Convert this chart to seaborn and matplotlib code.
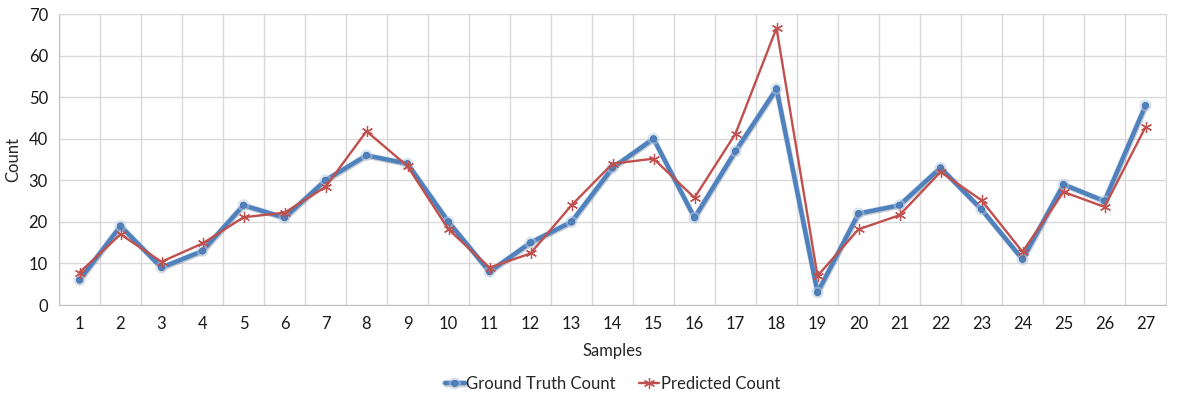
import numpy as np
import pandas as pd
import seaborn as sns
import matplotlib.pyplot as plt
import matplotlib.patheffects as pe

# Data
samples = list(range(1, 28))
ground_truth = [6, 19, 9, 13, 24, 21, 30, 36, 34, 20, 8, 15, 20, 33, 40, 21, 37, 52,
                3, 22, 24, 33, 23, 11, 29, 25, 48]
predicted = [7.8, 17, 10.4, 14.8, 21.1, 22.2, 28.4, 41.8, 33.4, 18.2, 9, 12.4, 24, 34,
             35.2, 25.8, 41.2, 66.6, 7, 18.2, 21.6, 32, 25.2, 12.8, 27.2, 23.6, 42.8]

df = pd.DataFrame({'Samples': samples,
                   'Ground Truth Count': ground_truth,
                   'Predicted Count': predicted})

sns.set_style('white')
plt.rcParams['font.family'] = ['Lato', 'DejaVu Sans']

fig = plt.figure(figsize=(11.88, 3.97), dpi=100)
ax = fig.add_axes([59 / 1188, (397 - 305) / 397, (1166 - 59) / 1188, (305 - 14) / 397])

blue = '#4F81BD'
red = '#C0504D'

sns.lineplot(data=df, x='Samples', y='Ground Truth Count', ax=ax, color=blue,
             linewidth=3.2, marker='o', markersize=4.5, markeredgecolor='#3a6aa6',
             markeredgewidth=0.5, label='Ground Truth Count', zorder=3,
             path_effects=[pe.SimpleLineShadow(offset=(0.6, -1.0), alpha=0.2),
                           pe.Stroke(linewidth=4.2, foreground='#b8cbe4', alpha=0.5),
                           pe.Normal()])
sns.lineplot(data=df, x='Samples', y='Predicted Count', ax=ax, color=red,
             linewidth=1.7, marker=(6, 2, 0), markersize=8, markeredgecolor=red,
             markeredgewidth=0.9, label='Predicted Count', zorder=4)

ax.set_xlim(0.5, 27.5)
ax.set_ylim(0, 70)
ax.set_xticks(samples)
ax.set_xticks(np.arange(0.5, 28, 1), minor=True)
ax.set_yticks(range(0, 71, 10))
ax.grid(False)
ax.grid(True, which='minor', axis='x', color='#d9d9d9', linewidth=1)
ax.grid(True, which='major', axis='y', color='#d9d9d9', linewidth=1)
ax.tick_params(axis='both', which='both', length=0, labelsize=12, colors='#1a1a1a')
ax.tick_params(axis='x', pad=8)
ax.tick_params(axis='y', pad=8)
for side in ['left', 'bottom']:
    ax.spines[side].set_color('#bfbfbf')
for side in ['top', 'right']:
    ax.spines[side].set_color('#d9d9d9')

ax.set_xlabel('Samples', fontsize=12, labelpad=8)
ax.set_ylabel('Count', fontsize=12, labelpad=5)

leg = ax.legend(loc='center', bbox_to_anchor=(0.5, -0.272), ncol=2, frameon=False,
                fontsize=12, handlelength=1.2, handletextpad=0.1, columnspacing=1.4)

fig.savefig('out.png', dpi=100)
